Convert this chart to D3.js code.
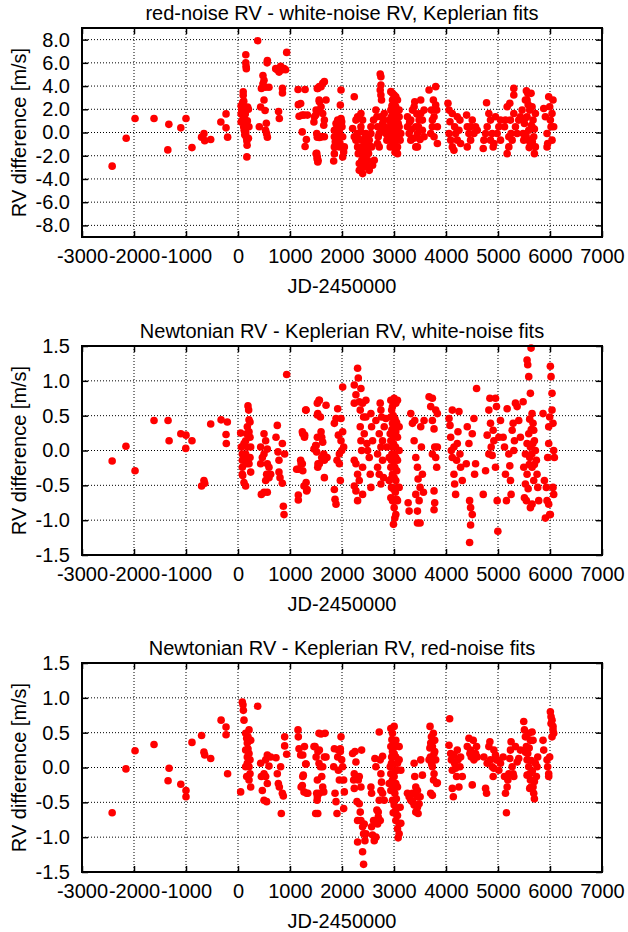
<!DOCTYPE html>
<html>
<head>
<meta charset="utf-8">
<script src="https://cdn.jsdelivr.net/npm/d3@7"></script>
<style>
  body { margin: 0; background: #fff; }
  text { font-family: "Liberation Sans", Arial, sans-serif; fill: #000; }
</style>
</head>
<body>
<div id="chart"></div>
<script>

// shared axis
const xTicks = [-3000, -2000, -1000, 0, 1000, 2000, 3000, 4000, 5000, 6000, 7000];
const yTicksWide = [-8, -6, -4, -2, 0, 2, 4, 6, 8];
const yTicksNarrow = [-1.5, -1.0, -0.5, 0.0, 0.5, 1.0, 1.5];

const titles = [
    'red-noise RV - white-noise RV, Keplerian fits',
    'Newtonian RV - Keplerian RV, white-noise fits',
    'Newtonian RV - Keplerian RV, red-noise fits'
];

// panel 1: red-noise RV - white-noise RV  [JD-2450000, m/s]
const redMinusWhite = [
    [-2420,-2.9],[-2150,-0.5],[-1980,1.2],[-1615,1.2],[-1330,0.7],[-1350,-1.5],[-1100,0.4],[-1000,1.2],[-885,-1.3],
    [-700,-0.4],[-655,-0.1],[-640,-0.7],[-525,-0.6],[-330,0.9],[-230,1.6],[-230,0.4],[-200,-0.4],
    [60,0.9],[60,1.6],[60,2.3],[70,2.0],[80,1.0],[90,2.6],[100,3.5],[100,3.2],[110,2.7],[110,1.3],[110,0.5],
    [120,0.2],[120,1.8],[130,1.1],[140,0.3],[150,6.7],[150,6.0],[155,5.7],[160,5.5],[150,0.0],[160,-0.4],
    [170,-0.7],[175,-1.1],[170,-2.1],[180,1.0],[185,2.2],[200,2.0],[200,-0.5],[210,0.5],[140,1.6],[130,-0.2],
    [378,7.9],[410,0.5],[435,2.2],[450,3.8],[480,4.9],[500,4.5],[520,1.9],[530,3.9],[545,0.8],[550,-0.1],
    [560,6.0],[565,6.2],[565,-0.4],[595,3.9],[500,2.8],[530,0.2],[480,4.2],
    [725,5.5],[755,5.4],[790,5.2],[820,5.7],[850,5.4],[885,5.5],[915,5.4],[780,1.8],[795,1.2],[855,3.8],[855,3.4],[936,6.9],
    [1155,3.7],[1160,2.4],[1175,1.4],[1205,2.5],[1235,1.5],[1235,0.05],[1270,1.5],[1290,3.7],[1290,-1.2],[1315,-0.6],[1335,1.5],
    [1460,0.9],[1495,1.5],[1515,-0.1],[1525,-0.4],[1525,3.8],[1515,-1.8],[1525,-2.1],[1540,-2.4],[1560,2.8],[1560,1.9],
    [1470,1.35],[1502,1.93],[1534,3.8],[1565,3.95],[1597,3.95],[1629,4.24],[1661,4.38],[1565,2.65],[1597,2.22],
    [1629,1.64],[1661,1.07],[1649,0.63],[1693,2.8],[1597,-0.37],[1565,-0.43],[1502,-1.82],[1521,-2.25],[1534,-2.54],
    [1610,-0.37],[1661,-0.37],
    [1853,0.2],[1853,-0.37],[1853,-1.24],[1853,-1.82],[1840,-2.45],[1885,0.78],[1917,-0.66],[1949,-1.24],[1968,2.36],
    [1981,3.66],[1994,0.92],[2013,-0.37],[2032,-1.67],[2013,-2.1],[2045,-1.24],[1917,1.07],[1949,0.06],[1981,1.21],
    [1870,-0.8],[1900,0.4],[1935,-0.1],[1960,-0.9],[2000,0.5],
    [2204,0.35],[2236,3.08],[2236,-0.37],[2268,1.07],[2268,-0.66],[2300,1.35],[2300,-1.24],[2313,-1.82],[2332,-2.68],
    [2332,-3.26],[2364,0.49],[2364,0.06],[2383,-0.66],[2396,-1.24],[2396,-3.54],[2415,-2.1],[2428,-2.97],[2460,-1.53],
    [2492,-2.39],[2524,-0.66],[2556,-0.09],[2569,-1.24],[2556,0.49],[2607,1.07],[2620,-2.39],[2588,-2.82],[2524,-3.26],
    [2492,-0.95],[2428,-0.66],[2332,1.35],[2364,1.64],[2288,-0.09],[2396,1.07],[2460,-0.09],
    [2310,-0.5],[2350,-1.6],[2380,-2.4],[2440,-1.9],[2470,-2.8],[2510,-1.8],[2540,-1.2],[2450,-0.4],
    [2652,1.93],[2671,1.35],[2684,0.49],[2697,-0.37],[2716,-1.24],[2735,5.04],[2748,4.81],[2748,4.09],[2735,3.66],
    [2748,3.23],[2760,2.8],[2780,0.78],[2780,0.2],[2799,1.07],[2812,1.64],[2824,0.49],[2843,-0.09],[2863,-0.66],
    [2748,1.35],[2716,-0.09],[2684,-0.95],
    [2939,3.52],[2971,3.37],[3003,3.23],[2971,2.8],[3003,2.51],[3035,2.22],[2939,1.93],[2971,1.64],[3003,1.35],
    [3035,1.07],[2939,0.78],[2971,0.49],[3003,0.2],[3035,-0.09],[3067,-0.37],[2939,-0.66],[2971,-0.95],[3003,-1.24],
    [3035,-1.53],[3067,-1.82],[3099,0.49],[3099,1.35],[3131,-0.09],[3118,-0.66],[2907,-0.09],[2907,1.07],[3067,2.8],
    [3099,1.93],[2952,1.35],[2990,0.92],[3016,0.63],[3054,0.2],[2952,-0.37],[2990,-0.66],[3016,-0.95],[2927,-1.24],
    [3067,-1.24],[3035,3.08],
    [2960,2.3],[2990,2.0],[3020,1.7],[3050,1.4],[2930,0.3],[2960,0.0],[3010,-0.3],[3040,-0.6],[3080,0.8],[3020,-1.7],
    [3259,1.35],[3259,0.49],[3291,-0.09],[3323,-0.66],[3323,1.07],[3355,1.93],[3387,2.22],[3399,2.65],[3419,0.49],
    [3419,-1.24],[3451,-1.24],[3451,-0.09],[3483,1.07],[3514,2.8],[3514,1.64],[3546,1.07],[3546,0.2],[3578,-0.37],[3578,1.93],
    [3300,0.9],[3340,0.3],[3380,-0.5],[3440,1.6],[3470,0.5],[3500,-0.6],
    [3674,3.66],[3719,1.93],[3738,1.07],[3738,0.49],[3770,-0.37],[3802,2.36],[3802,3.95],[3821,1.93],[3834,0.49],
    [3834,-0.95],[3770,1.35],[3706,-0.09],[3757,2.8],
    [4038,2.51],[4058,1.93],[4077,0.92],[4058,-0.09],[4090,-0.66],[4121,-1.24],[4153,-1.53],[4166,0.49],[4185,-0.09],
    [4217,1.35],[4217,-0.66],[4249,0.2],[4268,1.07],[4281,-0.95],[4121,1.64],
    [4396,1.5],[4409,0.49],[4441,-0.09],[4409,-1.24],[4473,-0.66],[4505,1.07],[4537,-0.09],[4569,0.49],[4601,0.2],[4473,0.49],
    [4716,-1.38],[4729,-0.66],[4761,-0.09],[4780,2.56],[4792,0.49],[4824,1.64],[4856,1.07],[4888,-0.09],[4907,-1.24],
    [4920,-0.95],[4952,1.35],[4984,-0.09],[5016,0.49],[5048,1.07],[5048,-0.66],[4856,-0.66],
    [5125,0.49],[5144,1.07],[5176,2.22],[5176,-1.82],[5208,-1.24],[5208,-0.37],[5227,2.51],[5240,1.07],[5272,-0.66],
    [5304,3.8],[5304,3.23],[5336,0.49],[5368,-0.09],[5399,1.07],[5431,1.35],[5304,1.64],[5252,-0.09],
    [5463,1.93],[5483,-0.09],[5495,-0.66],[5508,0.78],[5527,2.8],[5546,3.6],[5559,1.35],[5572,3.37],[5591,0.2],
    [5610,1.93],[5623,-0.95],[5636,3.37],[5655,2.22],[5674,1.07],[5687,-0.37],[5700,-1.82],[5719,-1.24],[5719,1.64],
    [5655,0.49],[5559,2.8],[5591,-0.66],
    [5520,1.2],[5540,-0.3],[5580,2.4],[5600,-1.3],[5640,0.6],[5660,-0.8],[5700,0.3],
    [5879,2.07],[5911,1.35],[5943,-0.09],[5955,-0.95],[5975,3.08],[5994,2.22],[6007,1.07],[6020,0.49],[6039,1.64],
    [6058,2.8],[6071,0.49],[5943,-1.24],[6039,-0.66]
];

// panel 2: Newtonian - Keplerian, white-noise fits
const newtMinusKepWhite = [
    [-2420,-0.15],[-2155,0.06],[-1980,-0.29],[-1615,0.43],[-1345,0.43],[-1325,0.14],[-1100,0.24],[-1000,0.22],
    [-1005,0.03],[-885,0.14],[-700,-0.51],[-655,-0.43],[-640,-0.47],[-525,0.38],[-325,0.44],[-205,0.41],[-230,0.23],[-225,0.10],
    [51,0.25],[64,0.05],[83,-0.05],[83,-0.14],[83,-0.24],[90,-0.36],[115,-0.46],[147,-0.51],[147,0.14],[167,0.24],
    [179,0.34],[179,0.05],[179,-0.10],[212,-0.19],[192,0.64],[205,0.58],[212,0.44],[231,0.41],[212,0.27],[231,0.19],
    [244,0.05],[231,-0.10],[244,-0.31],[83,-0.34],[147,-0.05],[115,0.10],[167,-0.19],
    [436,-0.19],[436,0.05],[468,-0.10],[449,-0.63],[500,0.24],[500,-0.05],[532,0.14],[532,-0.43],[564,0.02],[564,-0.60],
    [564,-0.19],[596,-0.24],[551,-0.34],[596,-0.39],[628,-0.34],[500,-0.60],
    [731,0.19],[756,0.36],[769,-0.02],[788,-0.14],[788,-0.31],[808,-0.39],[853,-0.47],[853,0.10],[872,-0.80],[885,-0.92],
    [897,-0.05],[936,1.09],
    [1128,-0.27],[1160,-0.64],[1160,-0.71],[1205,-0.14],[1237,-0.19],[1269,-0.51],[1282,0.22],[1301,0.58],[1320,-0.58],
    [1160,-0.27],[1237,0.27],
    [1461,0.02],[1494,0.07],[1513,-0.02],[1526,0.68],[1526,0.51],[1526,0.19],[1538,-0.19],[1558,0.72],
    [1246,0.24],[1278,0.19],[1214,-0.19],[1310,0.58],[1310,-0.46],[1329,-0.56],[1246,-0.29],
    [1502,0.07],[1534,0.53],[1565,0.72],[1585,0.48],[1597,0.27],[1610,0.19],[1629,0.12],[1649,-0.05],[1661,-0.14],
    [1661,-0.39],[1693,0.65],[1712,-0.10],[1565,-0.19],[1534,-0.24],[1610,-0.10],
    [1853,0.39],[1885,0.46],[1917,0.60],[1930,0.22],[1949,-0.19],[1968,-0.43],[1981,0.14],[1994,0],[2013,0.91],
    [2013,0.27],[2032,0.05],[1853,-0.56],[1866,-0.70],[1885,-0.77],[1904,-0.14],[1949,-0.05],[1981,0.46],
    [2236,0.94],[2268,0.80],[2300,1.18],[2313,1.04],[2332,0.70],[2351,0.58],[2364,0.89],[2236,0.68],[2236,-0.14],
    [2236,-0.51],[2268,-0.19],[2268,-0.58],[2300,-0.34],[2300,-0.72],[2332,-0.43],[2351,0.34],[2364,0.14],[2377,0],
    [2396,-0.24],[2396,-0.63],[2415,0.48],[2428,0.24],[2460,0.72],[2492,0],[2524,-0.10],[2543,-0.34],[2556,0.53],
    [2569,0.34],[2588,0.14],[2556,-0.53],[2479,0.10],[2460,0.48],[2396,0.68],
    [2652,0.43],[2684,-0.05],[2716,0.24],[2735,0.68],[2748,0.58],[2748,-0.48],[2760,0.48],[2780,0.14],[2780,-0.14],
    [2799,-0.39],[2812,0.34],[2843,0.46],[2863,0.05],[2684,-0.24],[2716,-0.34],[2748,0.05],
    [2939,0.72],[2971,0.63],[3003,0.75],[3035,0.68],[3067,0.72],[2939,0.48],[2971,0.39],[3003,0.34],[3035,0.27],
    [3067,0.19],[2939,0.14],[2971,0.05],[3003,-0.05],[3035,-0.10],[3067,-0.14],[2939,-0.24],[2971,-0.34],[3003,-0.39],
    [3035,-0.43],[3067,-0.53],[2939,-0.68],[2971,-0.72],[3003,-0.82],[3035,-0.92],[2990,-1.06],[3016,-0.97],[3067,-0.72],
    [3099,-0.53],[3099,0],[3099,0.34],[2907,-0.10],[2907,-0.43],[2927,0.24],[2952,-0.14],[3054,-0.29],[2990,0.10],
    [3016,-0.24],[2952,-0.53],
    [2955,0.58],[2985,0.50],[3020,0.45],[3050,0.40],[2960,0.30],[2990,0.20],[3030,0.05],[2960,-0.05],[2995,-0.15],
    [3025,-0.60],[2955,-0.40],[3050,-0.70],[2985,-0.55],
    [3272,-0.75],[3291,-0.87],[3323,0.53],[3355,0.39],[3387,0.14],[3419,-0.10],[3419,-0.63],[3451,-0.24],[3451,-0.87],
    [3463,-0.41],[3483,-0.72],[3502,-0.53],[3514,0.34],[3527,0.05],[3546,-0.34],[3566,-0.60],[3578,0.43],[3451,-1.04],
    [3502,-1.04],[3399,0.43],
    [3674,0.77],[3706,0.63],[3738,0.75],[3738,0.43],[3770,0.31],[3783,0.05],[3802,-0.10],[3802,0.58],[3821,-0.24],
    [3834,0.53],[3770,-0.58],[3783,-0.75],[3770,-0.85],[3738,-0.05],[3834,0.05],
    [4058,0.46],[4077,0.36],[4090,0.19],[4102,0],[4121,-0.10],[4121,0.58],[4153,-0.34],[4166,-0.48],[4185,-0.63],
    [4204,-0.14],[4217,0.10],[4230,0.27],[4249,0.56],[4268,-0.05],[4281,-0.24],[4313,-0.43],[4153,0.05],
    [4390,-0.19],[4409,0.34],[4441,0.10],[4454,-0.72],[4473,-0.82],[4505,-0.92],[4473,-1.07],[4454,-1.32],[4505,0.24],
    [4537,0.46],[4550,-0.34],[4588,0.89],[4569,-0.19],
    [4716,-0.63],[4761,-0.29],[4792,0.22],[4824,0.58],[4844,0.75],[4856,0.39],[4869,0.05],[4888,-0.07],[4907,0.29],
    [4920,0.14],[4952,0.75],[4971,0.63],[4952,-0.24],[4984,-0.72],[4997,-1.16],[5016,0.19],[5048,0.43],[4824,-0.05],
    [5099,0.19],[5125,0.05],[5144,-0.34],[5163,-0.72],[5176,0.60],[5208,-0.05],[5227,-0.22],[5240,-0.43],[5252,-0.63],
    [5272,0.29],[5291,0.39],[5304,0],[5316,0.14],[5336,0.68],[5368,0.63],[5399,0.43],[5431,0.19],
    [5483,0.70],[5495,-0.24],[5508,-0.68],[5527,-0.48],[5546,-0.72],[5559,1.30],[5572,1.23],[5591,1.06],[5623,0.82],
    [5636,1.47],[5655,0.53],[5674,0.39],[5687,0.29],[5700,0.14],[5719,0],[5738,-0.14],[5751,-0.34],[5764,-0.53],
    [5783,-0.72],[5623,-0.82],[5655,-0.77],[5610,-0.10],[5559,0.10],[5687,-0.43],[5591,0.24],[5623,0.05],[5655,-0.24],
    [5527,-0.05],[5559,-0.34],
    [5610,0.45],[5640,0.30],[5670,0.10],[5600,-0.20],[5650,-0.05],[5700,-0.20],[5580,-0.55],
    [5866,0.53],[5892,-0.43],[5911,-0.97],[5930,-0.53],[5943,-0.72],[5975,-0.77],[5994,-0.92],[6007,-0.92],[5955,-0.10],
    [5975,0.34],[5994,0.48],[6007,1.21],[6020,1.06],[6039,0.82],[6039,0.58],[6058,0.39],[6071,0],[6084,-0.10],
    [5975,0.10],[6058,-0.53],[6071,-0.63]
];

// panel 3: Newtonian - Keplerian, red-noise fits
const newtMinusKepRed = [
    [-2420,-0.65],[-2155,-0.02],[-1980,0.24],[-1615,0.33],[-1325,-0.01],[-1345,-0.19],[-1100,-0.24],[-1000,-0.33],
    [-1000,-0.42],[-885,0.36],[-700,0.46],[-655,0.22],[-640,0.18],[-525,0.13],[-325,0.68],[-230,0.58],[-230,0.47],[-200,-0.09],
    [51,-0.35],[83,0.94],[96,0.90],[103,0.82],[115,0.68],[147,0.49],[167,0.42],[179,0.35],[192,0.27],[212,0.20],
    [231,0.11],[212,0.01],[231,-0.09],[212,-0.18],[244,-0.28],[192,0.44],[147,0.01],[167,-0.13],[212,0.54],[179,0.15],
    [244,0.39],[147,0.25],[179,0.06],
    [436,0.06],[449,-0.13],[468,-0.33],[500,-0.09],[500,-0.47],[532,0.11],[532,-0.13],[551,-0.49],[564,-0.23],[564,0.18],
    [596,0.02],[628,0.15],[378,0.88],
    [731,0.14],[756,-0.09],[776,-0.23],[795,-0.28],[820,0.01],[833,-0.66],[853,-0.37],[872,-0.41],[897,0.44],[897,0.31],[936,0.19],
    [1154,0.54],[1160,0.44],[1173,0.27],[1205,0.18],[1237,-0.26],[1256,-0.11],[1269,-0.35],[1301,0.05],[1320,-0.37],
    [1461,0.30],[1494,-0.66],[1513,-0.37],[1526,-0.42],[1538,0.23],[1558,0.49],[1558,0.06],[1526,-0.18],
    [1246,0.18],[1214,-0.28],[1278,0.30],[1310,0.05],[1342,-0.37],[1246,-0.13],
    [1482,0.30],[1502,0.15],[1521,-0.47],[1534,-0.66],[1565,0.25],[1585,0.01],[1597,0.48],[1610,-0.13],[1629,-0.28],
    [1649,-0.35],[1661,0.15],[1674,0.49],[1693,0.15],[1565,-0.37],[1629,0.01],
    [1840,0.01],[1853,0.27],[1866,-0.37],[1885,-0.49],[1904,-0.66],[1917,0.15],[1930,-0.04],[1949,-0.18],[1968,0.27],
    [1981,0.44],[1994,0.11],[2013,0.01],[2032,-0.18],[2045,-0.35],[2032,-0.59],[1930,0.25],[1968,0.23],
    [2204,0.20],[2224,-0.18],[2236,-0.30],[2249,0.23],[2268,0.08],[2288,-0.49],[2300,-0.76],[2313,-0.18],[2332,-0.52],
    [2351,-0.64],[2364,-0.76],[2377,0.25],[2396,-0.85],[2415,-0.95],[2428,-0.81],[2441,-1.05],[2396,-1.21],[2415,-1.39],
    [2300,-1.07],[2332,-0.13],[2364,-0.28],[2460,-0.95],[2268,-0.13],[2236,-0.09],
    [2556,-0.28],[2569,-0.37],[2588,-0.97],[2607,-0.76],[2620,-1.05],[2633,0.13],[2652,0.01],[2671,-0.61],[2684,-0.81],
    [2697,-0.71],[2716,-0.47],[2735,-0.76],[2748,-0.09],[2760,-0.21],[2780,0.16],[2716,0.51],[2780,-0.37],[2812,-0.47],
    [2569,-0.85],[2652,-1.00],[2697,-0.64],[2735,0.11],[2748,-0.33],
    [2939,0.56],[2971,0.49],[3003,0.59],[3035,0.39],[2939,0.30],[2971,0.23],[3003,0.20],[3035,0.15],[3067,0.06],
    [2939,-0.09],[2971,-0.18],[3003,-0.13],[3035,-0.23],[3067,-0.28],[3099,0.11],[2939,-0.33],[2971,-0.47],[3003,-0.54],
    [3035,-0.61],[3067,-0.69],[3099,-0.81],[3131,-0.80],[3067,-0.88],[3099,-0.95],[3080,-1.01],[3035,-0.76],[2907,-0.23],
    [2927,0.01],[3118,-0.57],[3131,-0.04],[3099,0.30],[2952,0.06],[2990,-0.28],[3016,-0.37],[3054,-0.04],
    [2960,0.40],[2995,0.35],[3020,0.30],[2955,0.15],[2990,0.05],[3020,-0.05],[2960,-0.20],[3045,-0.45],[2985,-0.65],
    [3259,-0.37],[3291,-0.42],[3323,-0.47],[3355,-0.49],[3387,0.06],[3399,-0.13],[3419,-0.28],[3438,-0.42],[3451,-0.57],
    [3463,-0.66],[3483,-0.52],[3502,-0.42],[3514,0.11],[3546,-0.11],[3387,-0.54],[3419,-0.64],[3355,-0.37],[3451,-0.33],
    [3674,0.11],[3693,0.59],[3706,0.35],[3719,0.44],[3738,0.30],[3757,0.49],[3770,0.20],[3783,0.39],[3802,0.11],
    [3821,-0.23],[3834,-0.22],[3738,-0.40],[3706,-0.37],[3770,-0.09],[3738,0.01],[3783,0.23],
    [3700,0.15],[3725,0.05],[3750,0.38],[3760,-0.18],[3690,0.28],
    [4058,0.32],[4070,0.70],[4090,0.20],[4102,0.11],[4121,-0.04],[4121,-0.30],[4141,-0.42],[4153,0.18],[4166,0.06],
    [4185,-0.01],[4204,-0.13],[4217,0.25],[4249,-0.28],[4268,0.01],[4281,0.15],[4313,-0.13],[4230,0.11],
    [4409,0.30],[4441,0.42],[4473,0.25],[4486,0.15],[4505,-0.25],[4524,0.39],[4537,0.11],[4569,0.20],[4588,0.30],
    [4601,0.15],[4460,0.20],
    [4729,0.15],[4761,-0.30],[4780,-0.37],[4792,0.06],[4824,0.30],[4844,0.37],[4856,0.11],[4888,0.01],[4907,-0.13],
    [4920,0.25],[4952,0.18],[4971,0.11],[4984,0.11],[5016,-0.04],[5048,0.06],[4920,-0.01],
    [5099,0.15],[5125,-0.13],[5144,-0.37],[5163,-0.65],[5176,-0.28],[5189,-0.18],[5208,-0.09],[5227,0.13],[5240,0.25],
    [5252,0.37],[5272,0.01],[5291,-0.09],[5304,-0.13],[5336,0.30],[5368,0.08],[5399,0.13],[5431,0.25],
    [5495,0.66],[5508,0.54],[5527,0.44],[5546,0.30],[5559,0.11],[5572,0.20],[5591,0.01],[5610,-0.09],[5623,-0.18],
    [5636,-0.28],[5655,0.51],[5674,0.39],[5687,-0.37],[5700,-0.45],[5719,0.06],[5738,-0.13],[5751,0.01],[5764,0.15],
    [5591,0.49],[5623,0.39],[5559,-0.11],[5674,-0.28],
    [5530,0.22],[5600,0.28],[5640,0.10],[5660,-0.05],[5610,-0.30],[5700,-0.20],
    [5866,0.39],[5879,0.25],[5943,0.11],[5955,0.01],[5975,-0.09],[5975,-0.13],[5994,0.15],[6007,0.80],[6020,0.73],
    [6039,0.68],[6058,0.59],[6071,0.49],[6039,0.44],[6020,0.63],[6058,0.54]
];

const width = 628;
const height = 932;
const left = 82;
const right = 602;
const panelHeight = 209;
const panelTops = [28, 346, 663];
const fontSize = 20;

const panels = [
    { title: titles[0], data: redMinusWhite, domain: [-9, 9], ticks: yTicksWide },
    { title: titles[1], data: newtMinusKepWhite, domain: [-1.5, 1.5], ticks: yTicksNarrow },
    { title: titles[2], data: newtMinusKepRed, domain: [-1.5, 1.5], ticks: yTicksNarrow }
];

const svg = d3.select('#chart')
    .append('svg')
    .attr('width', width)
    .attr('height', height);

const x = d3.scaleLinear()
    .domain([-3000, 7000])
    .range([left, right]);

// gnuplot style labels: plain hyphen for minus, no thousands separator
const xFmt = d => String(d);
const yFmt = d => d.toFixed(1);

panels.forEach((p, i) => {
    const top = panelTops[i];
    const bottom = top + panelHeight;

    const y = d3.scaleLinear()
        .domain(p.domain)
        .range([bottom, top]);

    const g = svg.append('g');

    // dotted grid
    g.selectAll('.gx')
        .data(xTicks.slice(1, -1))
        .enter()
        .append('line')
        .attr('x1', d => x(d)).attr('x2', d => x(d))
        .attr('y1', top).attr('y2', bottom)
        .attr('stroke', '#000')
        .attr('stroke-width', 1)
        .attr('stroke-dasharray', '1,2');

    g.selectAll('.gy')
        .data(p.ticks.filter(d => d > p.domain[0] && d < p.domain[1]))
        .enter()
        .append('line')
        .attr('x1', left).attr('x2', right)
        .attr('y1', d => y(d)).attr('y2', d => y(d))
        .attr('stroke', '#000')
        .attr('stroke-width', 1)
        .attr('stroke-dasharray', '1,2');

    // axes with inward ticks, mirrored
    const tickLen = 6;

    g.append('g')
        .attr('transform', `translate(0,${bottom})`)
        .call(d3.axisBottom(x).tickValues(xTicks).tickFormat(xFmt).tickSizeInner(-tickLen).tickSizeOuter(0).tickPadding(tickLen + 6))
        .call(a => a.select('.domain').remove());

    g.append('g')
        .attr('transform', `translate(0,${top})`)
        .call(d3.axisTop(x).tickValues(xTicks).tickSizeInner(-tickLen).tickSizeOuter(0).tickFormat(''))
        .call(a => a.select('.domain').remove());

    g.append('g')
        .attr('transform', `translate(${left},0)`)
        .call(d3.axisLeft(y).tickValues(p.ticks).tickFormat(yFmt).tickSizeInner(-tickLen).tickSizeOuter(0).tickPadding(tickLen + 6))
        .call(a => a.select('.domain').remove());

    g.append('g')
        .attr('transform', `translate(${right},0)`)
        .call(d3.axisRight(y).tickValues(p.ticks).tickSizeInner(-tickLen).tickSizeOuter(0).tickFormat(''))
        .call(a => a.select('.domain').remove());

    g.selectAll('.tick line')
        .attr('stroke', '#000')
        .attr('stroke-width', 1.5);

    g.selectAll('.tick text')
        .attr('font-family', '"Liberation Sans", Arial, sans-serif')
        .attr('font-size', fontSize)
        .attr('fill', '#000');

    // points
    g.selectAll('circle')
        .data(p.data)
        .enter()
        .append('circle')
        .attr('cx', d => x(d[0]))
        .attr('cy', d => y(d[1]))
        .attr('r', 3.8)
        .attr('fill', '#ff0000');

    // frame
    g.append('rect')
        .attr('x', left).attr('y', top)
        .attr('width', right - left).attr('height', panelHeight)
        .attr('fill', 'none')
        .attr('stroke', '#000')
        .attr('stroke-width', 2);

    // labels
    g.append('text')
        .attr('x', (left + right) / 2)
        .attr('y', top - 8)
        .attr('text-anchor', 'middle')
        .attr('font-size', fontSize)
        .text(p.title);

    g.append('text')
        .attr('x', (left + right) / 2)
        .attr('y', bottom + 56)
        .attr('text-anchor', 'middle')
        .attr('font-size', fontSize)
        .text('JD-2450000');

    g.append('text')
        .attr('transform', `translate(26,${(top + bottom) / 2}) rotate(-90)`)
        .attr('text-anchor', 'middle')
        .attr('font-size', fontSize)
        .text('RV difference [m/s]');
});

</script>
</body>
</html>
